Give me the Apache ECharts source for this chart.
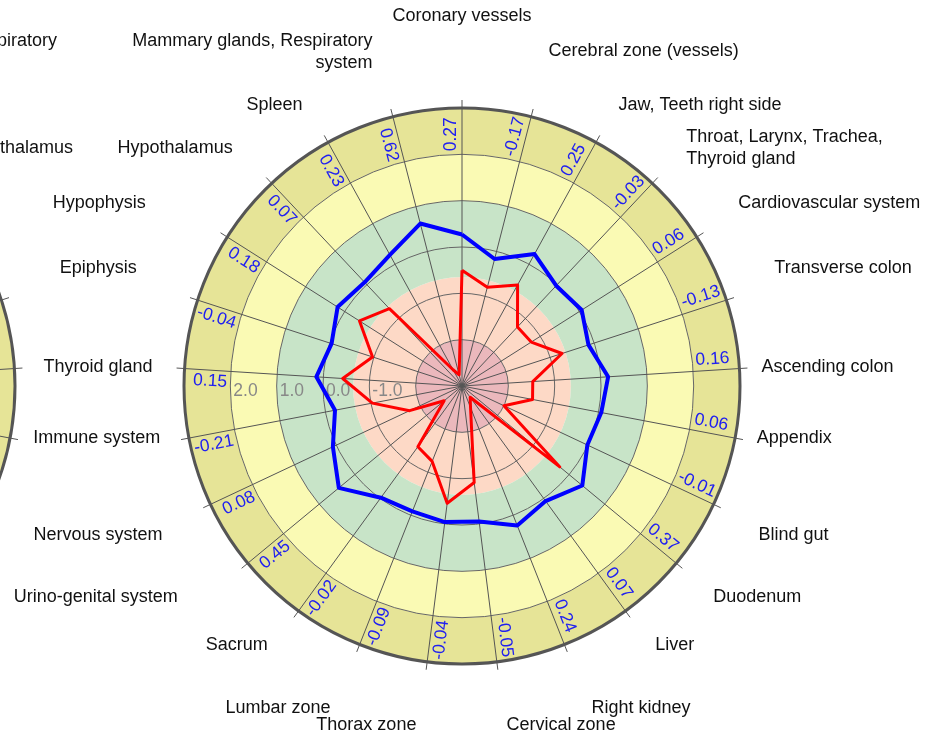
<!DOCTYPE html>
<html>
<head>
<meta charset="utf-8">
<script src="https://cdn.jsdelivr.net/npm/echarts@6/dist/echarts.min.js"></script>
<style>
  html, body { margin: 0; padding: 0; background: #fff; }
  #main { width: 935px; height: 736px; }
</style>
</head>
<body>
<div id="main"></div>
<script>
// zones, clockwise from the top
const categories = [
  "Coronary vessels", "Cerebral zone (vessels)", "Jaw, Teeth right side",
  "Throat, Larynx, Trachea,\nThyroid gland", "Cardiovascular system", "Transverse colon",
  "Ascending colon", "Appendix", "Blind gut", "Duodenum", "Liver", "Right kidney",
  "Cervical zone", "Thorax zone", "Lumbar zone", "Sacrum", "Urino-genital system",
  "Nervous system", "Immune system", "Thyroid gland", "Epiphysis", "Hypophysis",
  "Hypothalamus", "Spleen", "Mammary glands, Respiratory\nsystem"
];
// blue curve = numbers written in the outer ring
const blueValues = [0.27, -0.17, 0.25, -0.03, 0.06, -0.13, 0.16, 0.06, -0.01, 0.37, 0.07, 0.24,
  -0.05, -0.04, -0.09, -0.02, 0.45, 0.08, -0.21, 0.15, -0.04, 0.18, 0.07, 0.23, 0.62];
const redValues = [-0.5, -0.8, -0.51, -1.25, -1.23, -0.73, -1.47, -1.45, -2.0, -0.26, -2.7, -2.5,
  -0.9, -0.45, -1.25, -1.38, -2.5, -1.75, -1.03, -0.42, -0.97, -0.38, -0.71, -2.6, -2.75];
const radiusLabels = [2, 1, 0, -1];
const bandFrom = [-3, -2, -0.65, 1, 2];
const bandTo = [-2, -0.65, 1, 2, 3];
const bandColors = ["#ebb8bc", "#fdd9c6", "#c8e4c8", "#fafab4", "#e6e497"];
// partly visible neighbour chart on the left
const leftTexts = ["Respiratory", "Hypothalamus"];

// zone names: nudges (px) off the default spot, to follow the spread-out layout
const nameShift = [
  [0, -70], [12, -44], [12, -18], [19, -19], [23, -22], [27, -25], [0, 0], [0, -4],
  [25, 21], [20, 20], [17, 16], [19, 43], [7, 41], [-8, 41], [-21, 43], [-18, 16],
  [-53, 20], [-28, 21], [-7, -4], [-10, 0], [-40, -25], [-63, -22], [-24, -19], [-15, -18], [-15, -43]
];

const font = "'Liberation Sans', Arial, sans-serif";
const CENTER = [462, 386];
const LEFT_CENTER = [-263, 386];
const R = 278;
const NAME_R = 300;
const N = categories.length;

const chart = echarts.init(document.getElementById("main"));

// filled rings between two radius values
function renderBand(params, api) {
  const cs = params.coordSys;
  const p0 = api.coord([api.value(0), 0]);
  const p1 = api.coord([api.value(2), 0]);
  return {
    type: "sector",
    shape: {
      cx: cs.cx, cy: cs.cy,
      r0: Math.hypot(p0[0] - cs.cx, p0[1] - cs.cy),
      r: Math.hypot(p1[0] - cs.cx, p1[1] - cs.cy),
      startAngle: 0, endAngle: Math.PI * 2
    },
    style: { fill: bandColors[params.dataIndex] }
  };
}

// rotated numbers along each spoke in the outer ring
function renderValueLabel(params, api) {
  const cs = params.coordSys;
  const p = api.coord([api.value(0), api.value(1)]);
  const dx = p[0] - cs.cx, dy = cs.cy - p[1];
  const th = Math.atan2(dy, dx);
  const right = dx > -1;
  const ox = Math.cos(th), oy = -Math.sin(th);
  const px = -Math.sin(th), py = -Math.cos(th);
  return {
    type: "text",
    x: p[0] + ox * 3 + px * 2,
    y: p[1] + oy * 3 + py * 2,
    rotation: right ? th : th - Math.PI,
    style: {
      text: api.value(2).toFixed(2),
      fill: "#2020f0",
      fontSize: 17.5,
      fontFamily: font,
      align: right ? "left" : "right",
      verticalAlign: right ? "bottom" : "top"
    }
  };
}

// zone names outside the ring
function renderName(params, api) {
  const cs = params.coordSys;
  const p = api.coord([api.value(0), api.value(1)]);
  const k = NAME_R / cs.r;
  const x = cs.cx + (p[0] - cs.cx) * k;
  const y = cs.cy + (p[1] - cs.cy) * k;
  const dx = p[0] - cs.cx;
  const align = Math.abs(dx) < 2 ? "center" : (dx > 0 ? "left" : "right");
  const s = nameShift[params.dataIndex];
  return {
    type: "text",
    x: x + s[0],
    y: y + s[1],
    style: {
      text: categories[params.dataIndex],
      fill: "#111",
      fontSize: 18,
      lineHeight: 22,
      fontFamily: font,
      align: align,
      verticalAlign: "middle"
    }
  };
}

// closed ring of points: the last one goes back to the top spoke
function loop(values) {
  const d = values.map((v, i) => [v, i]);
  d.push([values[0], N]);
  return d;
}

const bandData = bandFrom.map((v, i) => [v, 0, bandTo[i]]);

function angleAxisFor(idx) {
  return {
    polarIndex: idx,
    type: "value",
    min: 0, max: N, interval: 1,
    startAngle: 90,
    clockwise: true,
    z: 1,
    axisLine: { lineStyle: { color: "#555", width: 3 } },
    axisTick: { length: 8, lineStyle: { color: "#555" } },
    axisLabel: { show: false },
    splitLine: { show: true, lineStyle: { color: "#555", width: 1 } }
  };
}

function radiusAxisFor(idx) {
  return {
    polarIndex: idx,
    min: -3, max: 3, interval: 1,
    z: 1,
    axisLine: { show: false },
    axisTick: { show: false },
    axisLabel: { show: false },
    splitLine: { show: true, lineStyle: { color: "#666", width: 1 } }
  };
}

const option = {
  backgroundColor: "#fff",
  animation: false,
  polar: [
    { center: CENTER, radius: R },
    { center: CENTER, radius: R },
    { center: LEFT_CENTER, radius: R }
  ],
  angleAxis: [
    angleAxisFor(0),
    { polarIndex: 1, type: "value", min: 0, max: 360, startAngle: 180, show: false },
    angleAxisFor(2)
  ],
  radiusAxis: [
    radiusAxisFor(0),
    {
      polarIndex: 1,
      min: -3, max: 3, interval: 1,
      z: 3,
      axisLine: { show: false },
      axisTick: { show: false },
      splitLine: { show: false },
      axisLabel: {
        margin: 5,
        align: "left",
        verticalAlign: "middle",
        padding: [0, 0, 0, 3],
        color: "#888",
        fontSize: 17.5,
        fontFamily: font,
        formatter: (v) => (radiusLabels.indexOf(v) >= 0 ? v.toFixed(1) : "")
      }
    },
    radiusAxisFor(2)
  ],
  graphic: [
    { type: "text", x: 57, y: 41, style: { text: leftTexts[0], fill: "#111", fontSize: 18, fontFamily: font, align: "right", verticalAlign: "middle" } },
    { type: "text", x: 73, y: 148, style: { text: leftTexts[1], fill: "#111", fontSize: 18, fontFamily: font, align: "right", verticalAlign: "middle" } }
  ],
  series: [
    { type: "custom", coordinateSystem: "polar", polarIndex: 0, z: 0, silent: true, data: bandData, renderItem: renderBand },
    { type: "custom", coordinateSystem: "polar", polarIndex: 2, z: 0, silent: true, data: bandData, renderItem: renderBand },
    {
      type: "line", coordinateSystem: "polar", polarIndex: 0, z: 3, clip: false,
      data: loop(blueValues), symbol: "none",
      lineStyle: { color: "#0000ff", width: 4, join: "round" }
    },
    {
      type: "line", coordinateSystem: "polar", polarIndex: 0, z: 3, clip: false,
      data: loop(redValues), symbol: "none",
      lineStyle: { color: "#ff0000", width: 3, join: "round" }
    },
    {
      type: "custom", coordinateSystem: "polar", polarIndex: 0, z: 4, silent: true,
      data: blueValues.map((v, i) => [2, i, v]),
      renderItem: renderValueLabel
    },
    {
      type: "custom", coordinateSystem: "polar", polarIndex: 0, z: 4, silent: true, clip: false,
      data: categories.map((c, i) => [3, i]),
      renderItem: renderName
    }
  ]
};

chart.setOption(option);
</script>
</body>
</html>
